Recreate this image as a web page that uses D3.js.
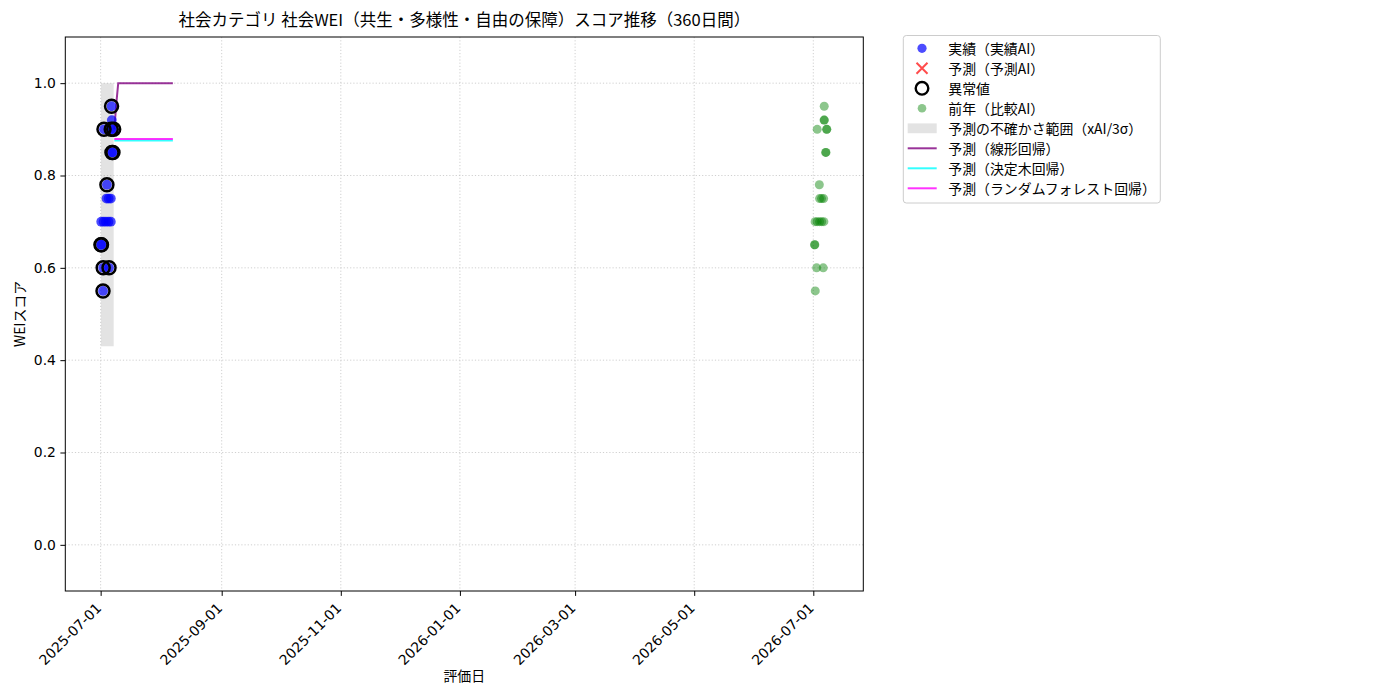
<!DOCTYPE html>
<html>
<head>
<meta charset="utf-8">
<script src="https://cdn.jsdelivr.net/npm/d3@7"></script>
<style>
  body { margin: 0; background: #fff; }
</style>
</head>
<body>
<svg id="chart" width="1400" height="700"></svg>
<script>
// --- data ---
const titleText = "社会カテゴリ 社会WEI（共生・多様性・自由の保障）スコア推移（360日間）";

// actual scores (実績AI)
const actualDates = [
  "2025-07-01T04:00", "2025-07-01T10:00", "2025-07-01T07:00", "2025-07-02T12:00", "2025-07-03T17:00",
  "2025-07-05T00:00", "2025-07-06T05:00", "2025-07-02T05:00", "2025-07-02T07:00", "2025-07-05T07:00",
  "2025-07-04T00:00", "2025-07-05T02:00", "2025-07-06T05:00", "2025-07-04T05:00", "2025-07-06T19:00",
  "2025-07-07T07:00", "2025-07-02T17:00", "2025-07-06T10:00", "2025-07-07T16:00", "2025-07-06T17:00",
  "2025-07-06T14:00"
];
const actualValues = [
  0.65, 0.65, 0.70, 0.70, 0.70,
  0.70, 0.70, 0.55, 0.60, 0.60,
  0.75, 0.75, 0.75, 0.78, 0.85,
  0.85, 0.90, 0.90, 0.90, 0.92,
  0.95
];
const actualOutlier = [
  true, true, false, false, false,
  false, false, true, true, true,
  false, false, false, true, true,
  true, true, true, true, false,
  true
];

// forecast AI points (none drawn in the reference)
const forecastAiDates = [];
const forecastAiValues = [];

// prior year (比較AI)
const prevDates = [
  "2026-07-06T14:00", "2026-07-06T12:00", "2026-07-06T16:00", "2026-07-03T00:00", "2026-07-07T20:00",
  "2026-07-07T22:00", "2026-07-07T08:00", "2026-07-07T12:00", "2026-07-04T02:00", "2026-07-04T05:00",
  "2026-07-05T05:00", "2026-07-06T07:00", "2026-07-01T22:00", "2026-07-03T00:00", "2026-07-04T05:00",
  "2026-07-05T07:00", "2026-07-06T10:00", "2026-07-01T15:00", "2026-07-01T19:00", "2026-07-02T17:00",
  "2026-07-06T02:00", "2026-07-02T00:00"
];
const prevValues = [
  0.95, 0.92, 0.92, 0.90, 0.90,
  0.90, 0.85, 0.85, 0.78, 0.75,
  0.75, 0.75, 0.70, 0.70, 0.70,
  0.70, 0.70, 0.65, 0.65, 0.60,
  0.60, 0.55
];

// uncertainty band (xAI / 3σ)
const bandDates = ["2025-07-01T04:00", "2025-07-07T16:00"];
const bandLower = [0.43, 0.43];
const bandUpper = [1.0, 1.0];

// regression forecasts, daily 2025-07-08 .. 2025-08-07
const forecastStart = "2025-07-08T00:00";
const forecastEnd = "2025-08-08T00:00";
const linearValues = [
  0.90, 0.955, 1.0, 1.0, 1.0, 1.0, 1.0, 1.0, 1.0, 1.0,
  1.0, 1.0, 1.0, 1.0, 1.0, 1.0, 1.0, 1.0, 1.0, 1.0,
  1.0, 1.0, 1.0, 1.0, 1.0, 1.0, 1.0, 1.0, 1.0, 1.0, 1.0
];
const treeValues = [
  0.876, 0.876, 0.876, 0.876, 0.876, 0.876, 0.876, 0.876, 0.876, 0.876,
  0.876, 0.876, 0.876, 0.876, 0.876, 0.876, 0.876, 0.876, 0.876, 0.876,
  0.876, 0.876, 0.876, 0.876, 0.876, 0.876, 0.876, 0.876, 0.876, 0.876, 0.876
];
const forestValues = [
  0.879, 0.879, 0.879, 0.879, 0.879, 0.879, 0.879, 0.879, 0.879, 0.879,
  0.879, 0.879, 0.879, 0.879, 0.879, 0.879, 0.879, 0.879, 0.879, 0.879,
  0.879, 0.879, 0.879, 0.879, 0.879, 0.879, 0.879, 0.879, 0.879, 0.879, 0.879
];

// axes
const xDomain = ["2025-06-12T21:30", "2026-07-26T14:30"];
const xTickDates = ["2025-07-01", "2025-09-01", "2025-11-01", "2026-01-01", "2026-03-01", "2026-05-01", "2026-07-01"];
const yDomain = [-0.1, 1.1];
const yTicks = [0.0, 0.2, 0.4, 0.6, 0.8, 1.0];

const legendLabels = [
  "実績（実績AI）", "予測（予測AI）", "異常値", "前年（比較AI）",
  "予測の不確かさ範囲（xAI/3σ）", "予測（線形回帰）", "予測（決定木回帰）", "予測（ランダムフォレスト回帰）"
];

// --- drawing ---
const jp = "'Noto Sans CJK JP', 'Noto Sans', sans-serif";
const num = "'DejaVu Sans', 'Noto Sans CJK JP', sans-serif";

const plot = {left: 65.3, top: 37, right: 863.3, bottom: 591};
const parse = d3.timeParse("%Y-%m-%dT%H:%M");
const parseDay = d3.timeParse("%Y-%m-%d");

const svg = d3.select("#chart");

const x = d3.scaleTime()
  .domain(xDomain.map(parse))
  .range([plot.left, plot.right]);
const y = d3.scaleLinear()
  .domain(yDomain)
  .range([plot.bottom, plot.top]);

const xTicks = xTickDates.map(parseDay);

// grid
const grid = svg.append("g");
grid.selectAll(".gx").data(xTicks).enter().append("line")
  .attr("x1", d => x(d)).attr("x2", d => x(d))
  .attr("y1", plot.top).attr("y2", plot.bottom)
  .attr("stroke", "#c4c4c4").attr("stroke-width", 0.8)
  .attr("stroke-dasharray", "1.2,2");
grid.selectAll(".gy").data(yTicks).enter().append("line")
  .attr("x1", plot.left).attr("x2", plot.right)
  .attr("y1", d => y(d)).attr("y2", d => y(d))
  .attr("stroke", "#c4c4c4").attr("stroke-width", 0.8)
  .attr("stroke-dasharray", "1.2,2");

// clip for plot content
svg.append("clipPath").attr("id", "clip")
  .append("rect")
  .attr("x", plot.left).attr("y", plot.top)
  .attr("width", plot.right - plot.left).attr("height", plot.bottom - plot.top);
const g = svg.append("g").attr("clip-path", "url(#clip)");

// uncertainty band
const band = bandDates.map((d, i) => ({date: parse(d), lo: bandLower[i], hi: bandUpper[i]}));
g.append("path")
  .datum(band)
  .attr("fill", "gray").attr("fill-opacity", 0.22)
  .attr("d", d3.area().x(d => x(d.date)).y0(d => y(d.lo)).y1(d => y(d.hi)));

// regression lines
const fDates = d3.timeDay.range(parse(forecastStart), parse(forecastEnd));
const lineGen = d3.line().x(d => x(d.date)).y(d => y(d.v));
[
  {vals: linearValues, color: "purple"},
  {vals: treeValues, color: "cyan"},
  {vals: forestValues, color: "magenta"}
].forEach(s => {
  g.append("path")
    .datum(fDates.map((d, i) => ({date: d, v: s.vals[i]})))
    .attr("fill", "none")
    .attr("stroke", s.color).attr("stroke-opacity", 0.8)
    .attr("stroke-width", 2)
    .attr("d", lineGen);
});

// actual points
const actual = actualDates.map((d, i) => ({date: parse(d), v: actualValues[i], out: actualOutlier[i]}));
g.selectAll(".actual").data(actual).enter().append("circle")
  .attr("cx", d => x(d.date)).attr("cy", d => y(d.v))
  .attr("r", 4.9)
  .attr("fill", "blue").attr("fill-opacity", 0.7);

// forecast AI points (x markers)
g.selectAll(".fai").data(forecastAiDates.map((d, i) => ({date: parse(d), v: forecastAiValues[i]})))
  .enter().append("path")
  .attr("transform", d => `translate(${x(d.date)},${y(d.v)})`)
  .attr("d", "M-5,-5L5,5M-5,5L5,-5")
  .attr("stroke", "red").attr("stroke-opacity", 0.7).attr("stroke-width", 2);

// prior year points
const prev = prevDates.map((d, i) => ({date: parse(d), v: prevValues[i]}));
g.selectAll(".prev").data(prev).enter().append("circle")
  .attr("cx", d => x(d.date)).attr("cy", d => y(d.v))
  .attr("r", 4.5)
  .attr("fill", "green").attr("fill-opacity", 0.45);

// outlier rings
g.selectAll(".out").data(actual.filter(d => d.out)).enter().append("circle")
  .attr("cx", d => x(d.date)).attr("cy", d => y(d.v))
  .attr("r", 6.5)
  .attr("fill", "none").attr("stroke", "black").attr("stroke-width", 2.5);

// axes
const xAxis = svg.append("g")
  .attr("transform", `translate(0,${plot.bottom})`)
  .call(d3.axisBottom(x).tickValues(xTicks).tickFormat(d3.timeFormat("%Y-%m-%d")).tickSize(4.9).tickSizeOuter(0));
xAxis.select(".domain").remove();
xAxis.selectAll("line").attr("stroke", "black").attr("stroke-width", 1);
xAxis.selectAll("text")
  .attr("font-family", num).attr("font-size", 13.9).attr("fill", "black")
  .attr("text-anchor", "end")
  .attr("y", 0).attr("dy", 0)
  .attr("transform", "translate(1,18) rotate(-45)");

const yAxis = svg.append("g")
  .attr("transform", `translate(${plot.left},0)`)
  .call(d3.axisLeft(y).tickValues(yTicks).tickFormat(d3.format(".1f")).tickSize(4.9).tickPadding(4.5));
yAxis.select(".domain").remove();
yAxis.selectAll("line").attr("stroke", "black").attr("stroke-width", 1);
yAxis.selectAll("text")
  .attr("font-family", num).attr("font-size", 13.9).attr("fill", "black");

// frame
svg.append("rect")
  .attr("x", plot.left).attr("y", plot.top)
  .attr("width", plot.right - plot.left).attr("height", plot.bottom - plot.top)
  .attr("fill", "none").attr("stroke", "black").attr("stroke-width", 1);

// labels
svg.append("text")
  .attr("x", (plot.left + plot.right) / 2).attr("y", 26)
  .attr("text-anchor", "middle")
  .attr("font-family", jp).attr("font-size", 16.5)
  .text(titleText);
svg.append("text")
  .attr("x", (plot.left + plot.right) / 2).attr("y", 681)
  .attr("text-anchor", "middle")
  .attr("font-family", jp).attr("font-size", 13.9)
  .text("評価日");
svg.append("text")
  .attr("transform", `translate(25,${(plot.top + plot.bottom) / 2}) rotate(-90)`)
  .attr("text-anchor", "middle")
  .attr("font-family", jp).attr("font-size", 13.9)
  .text("WEIスコア");

// legend
const lg = svg.append("g");
lg.append("rect")
  .attr("x", 903.3).attr("y", 35.5).attr("width", 257).attr("height", 167.5)
  .attr("rx", 3).attr("fill", "white").attr("stroke", "#cccccc").attr("stroke-width", 1);
const rowY = i => 48.3 + i * 20;
const hx = 922;
legendLabels.forEach((t, i) => {
  lg.append("text")
    .attr("x", 948.3).attr("y", rowY(i))
    .attr("dominant-baseline", "central")
    .attr("font-family", jp).attr("font-size", 13.9)
    .text(t);
});
lg.append("circle").attr("cx", hx).attr("cy", rowY(0)).attr("r", 4.6)
  .attr("fill", "blue").attr("fill-opacity", 0.7);
lg.append("path").attr("transform", `translate(${hx},${rowY(1)})`)
  .attr("d", "M-5.5,-5.5L5.5,5.5M-5.5,5.5L5.5,-5.5")
  .attr("stroke", "red").attr("stroke-opacity", 0.7).attr("stroke-width", 2);
lg.append("circle").attr("cx", hx).attr("cy", rowY(2)).attr("r", 6.3)
  .attr("fill", "none").attr("stroke", "black").attr("stroke-width", 2.4);
lg.append("circle").attr("cx", hx).attr("cy", rowY(3)).attr("r", 4.3)
  .attr("fill", "green").attr("fill-opacity", 0.45);
lg.append("rect").attr("x", 907.7).attr("y", rowY(4) - 4.9).attr("width", 29).attr("height", 9.8)
  .attr("fill", "gray").attr("fill-opacity", 0.22);
["purple", "cyan", "magenta"].forEach((c, k) => {
  lg.append("line")
    .attr("x1", 907.7).attr("x2", 936.7)
    .attr("y1", rowY(5 + k)).attr("y2", rowY(5 + k))
    .attr("stroke", c).attr("stroke-opacity", 0.8).attr("stroke-width", 2);
});
</script>
</body>
</html>
